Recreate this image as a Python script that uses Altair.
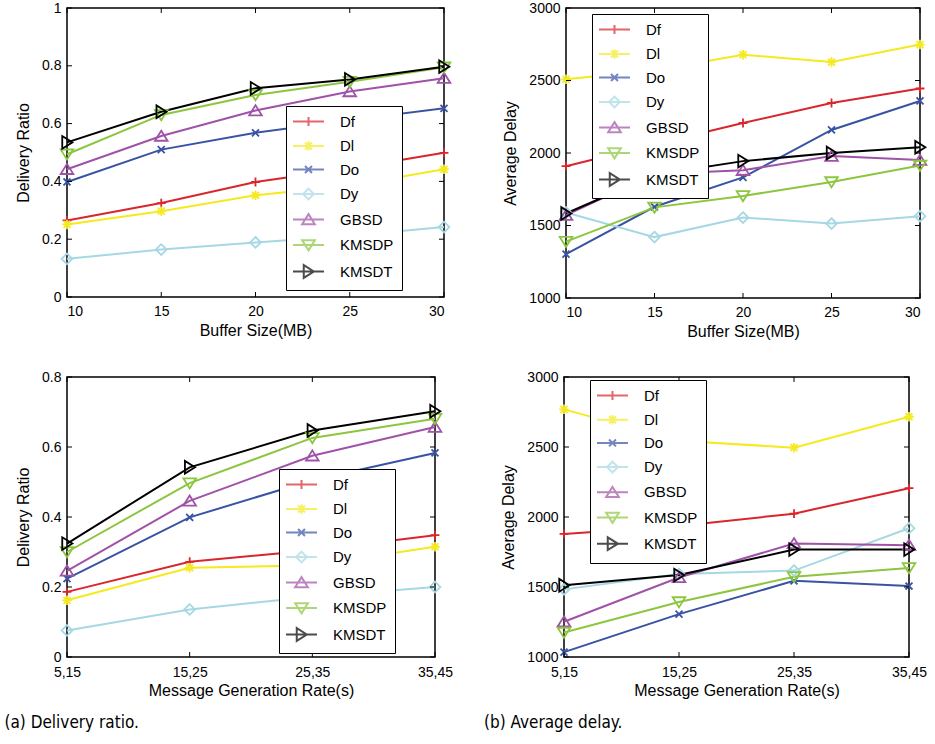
import altair as alt
import pandas as pd

# ---------------- data ----------------
series = ["Df", "Dl", "Do", "Dy", "GBSD", "KMSDP", "KMSDT"]
colors = ["#d9262c", "#f4ea1f", "#3953a4", "#a6d8e4", "#a052a8", "#8cc63f", "#000000"]

buffer_sizes = [10, 15, 20, 25, 30]
rate_labels = ["5,15", "15,25", "25,35", "35,45"]

ratio_buffer = {
    "Df":    [0.265, 0.325, 0.398, 0.445, 0.499],
    "Dl":    [0.251, 0.297, 0.352, 0.385, 0.442],
    "Do":    [0.398, 0.510, 0.568, 0.612, 0.653],
    "Dy":    [0.132, 0.164, 0.189, 0.212, 0.242],
    "GBSD":  [0.442, 0.557, 0.645, 0.711, 0.757],
    "KMSDP": [0.494, 0.630, 0.699, 0.745, 0.795],
    "KMSDT": [0.535, 0.641, 0.722, 0.753, 0.797],
}
delay_buffer = {
    "Df":    [1909, 2060, 2207, 2345, 2445],
    "Dl":    [2508, 2570, 2678, 2627, 2748],
    "Do":    [1303, 1629, 1832, 2159, 2359],
    "Dy":    [1590, 1420, 1555, 1513, 1564],
    "GBSD":  [1571, 1855, 1881, 1979, 1951],
    "KMSDP": [1389, 1625, 1704, 1800, 1914],
    "KMSDT": [1583, 1850, 1944, 2000, 2040],
}
ratio_rate = {
    "Df":    [0.186, 0.272, 0.305, 0.348],
    "Dl":    [0.162, 0.255, 0.262, 0.315],
    "Do":    [0.224, 0.399, 0.505, 0.583],
    "Dy":    [0.076, 0.136, 0.172, 0.200],
    "GBSD":  [0.246, 0.446, 0.575, 0.657],
    "KMSDP": [0.300, 0.497, 0.626, 0.681],
    "KMSDT": [0.324, 0.542, 0.647, 0.702],
}
delay_rate = {
    "Df":    [1879, 1935, 2024, 2206],
    "Dl":    [2769, 2545, 2495, 2716],
    "Do":    [1035, 1306, 1544, 1507],
    "Dy":    [1483, 1592, 1617, 1920],
    "GBSD":  [1252, 1568, 1811, 1799],
    "KMSDP": [1175, 1393, 1573, 1636],
    "KMSDT": [1512, 1585, 1767, 1767],
}

ratio_ticks_a = [0, 0.2, 0.4, 0.6, 0.8, 1]
ratio_ticks_b = [0, 0.2, 0.4, 0.6, 0.8]
delay_ticks = [1000, 1500, 2000, 2500, 3000]

# ---------------- styling ----------------
FONT = "Liberation Sans, Arial, Helvetica, sans-serif"
CAPTION_FONT = "Liberation Sans Narrow, DejaVu Sans Condensed, Roboto Condensed, Liberation Sans, sans-serif"

marker_paths = {
    "Df": "M-0.7,0L0.7,0M0,-0.7L0,0.7",
    "Dl": "M-0.75,0L0.75,0M0,-0.75L0,0.75M-0.55,-0.55L0.55,0.55M-0.55,0.55L0.55,-0.55",
    "Do": "M-0.55,-0.55L0.55,0.55M-0.55,0.55L0.55,-0.55",
    "Dy": "M0,-0.85L0.85,0L0,0.85L-0.85,0Z",
    "GBSD": "M0,-0.85L1,0.75L-1,0.75Z",
    "KMSDP": "M0,0.85L1,-0.75L-1,-0.75Z",
    "KMSDT": "M0.85,0L-0.75,-1L-0.75,1Z",
}
LINE_HALF = 2.45
legend_paths = [f"M-{LINE_HALF},0L{LINE_HALF},0" + marker_paths[s] for s in series]
MSIZE = 160
PAD = "\u00a0" * 7


def long_df(values, xs):
    rows = []
    for s in series:
        for xv, yv in zip(xs, values[s]):
            rows.append({"series": s, "x": xv, "y": yv})
    return pd.DataFrame(rows)


def panel(values, xs, xcat, yticks, ydomain, yfmt, xtitle, ytitle, W, H, lx, ly,
          rowpad=6.5, caption=None, cap_dx=0):
    df = long_df(values, xs)
    axis_common = dict(domain=False, ticks=False, grid=False, labelFont=FONT, labelFontSize=14,
                       labelColor="black", titleFont=FONT, titleFontSize=16,
                       titleFontWeight="normal", titleColor="black")
    if xcat:
        xenc = alt.X("x:O", scale=alt.Scale(type="point", padding=0, domain=xs),
                     axis=alt.Axis(labelAngle=0, labelPadding=8, titlePadding=3, **axis_common),
                     title=xtitle)
    else:
        xenc = alt.X("x:Q", scale=alt.Scale(domain=[xs[0], xs[-1]], nice=False, zero=False),
                     axis=alt.Axis(values=xs, format="d", labelPadding=7, titlePadding=4, **axis_common),
                     title=xtitle)
    yenc = alt.Y("y:Q", scale=alt.Scale(domain=ydomain, nice=False, zero=False),
                 axis=alt.Axis(values=yticks, format=yfmt, labelPadding=6, titlePadding=10, **axis_common),
                 title=ytitle)

    base = alt.Chart(df)
    layers = []
    for s, c in zip(series, colors):
        sub = base.transform_filter(alt.datum.series == s)
        layers.append(sub.mark_line(strokeWidth=2, color=c).encode(x=xenc, y=yenc))
    for s, c in zip(series, colors):
        sub = base.transform_filter(alt.datum.series == s)
        layers.append(sub.mark_point(filled=False, strokeWidth=1.8, size=MSIZE, opacity=1,
                                     color=c, shape=marker_paths[s]).encode(x=xenc, y=yenc))

    # inward tick marks
    xt = pd.DataFrame({"x": xs})
    yt = pd.DataFrame({"y": yticks})
    tl = 5
    layers.append(alt.Chart(xt).mark_rule(color="black", strokeWidth=1).encode(
        x=xenc, y=alt.value(H), y2=alt.value(H - tl)))
    layers.append(alt.Chart(xt).mark_rule(color="black", strokeWidth=1).encode(
        x=xenc, y=alt.value(0), y2=alt.value(tl)))
    layers.append(alt.Chart(yt).mark_rule(color="black", strokeWidth=1).encode(
        y=yenc, x=alt.value(0), x2=alt.value(tl)))
    layers.append(alt.Chart(yt).mark_rule(color="black", strokeWidth=1).encode(
        y=yenc, x=alt.value(W), x2=alt.value(W - tl)))

    # legend layer (no marks drawn, only the legend from the scales)
    leg = alt.Legend(title=None, orient="none", legendX=lx, legendY=ly,
                     labelExpr=f"datum.label + '{PAD}'",
                     strokeColor="black", fillColor="white", padding=8, rowPadding=rowpad,
                     labelFont=FONT, labelFontSize=15, labelColor="black",
                     symbolSize=MSIZE, symbolStrokeWidth=2, symbolOffset=7, labelOffset=24)
    layers.append(base.transform_filter("false").mark_point(filled=False, strokeWidth=2, size=MSIZE).encode(
        x=xenc, y=yenc,
        color=alt.Color("series:N", scale=alt.Scale(domain=series, range=colors), legend=leg),
        shape=alt.Shape("series:N", scale=alt.Scale(domain=series, range=legend_paths), legend=leg),
    ))
    ch = alt.layer(*layers).properties(width=W, height=H)
    if caption:
        ch = ch.properties(title=alt.TitleParams(
            text=caption, orient="bottom", anchor="start", frame="group", font=CAPTION_FONT,
            fontSize=17, fontWeight="normal", color="black", offset=17, dx=cap_dx))
    return ch


p1 = panel(ratio_buffer, buffer_sizes, False, ratio_ticks_a, [0, 1], "~g",
           "Buffer Size(MB)", "Delivery Ratio", 377, 289, 219, 98, rowpad=6.5)
p2 = panel(delay_buffer, buffer_sizes, False, delay_ticks, [1000, 3000], "d",
           "Buffer Size(MB)", "Average Delay", 354, 290, 26, 6, rowpad=6.5)
p3 = panel(ratio_rate, rate_labels, True, ratio_ticks_b, [0, 0.8], "~g",
           "Message Generation Rate(s)", "Delivery Ratio", 368, 280, 212, 92, rowpad=6.5,
           caption="(a) Delivery ratio.", cap_dx=-62.5)
p4 = panel(delay_rate, rate_labels, True, delay_ticks, [1000, 3000], "d",
           "Message Generation Rate(s)", "Average Delay", 345, 280, 26, 3, rowpad=6.2,
           caption="(b) Average delay.", cap_dx=-80)

res = dict(color="independent", shape="independent", x="independent", y="independent")
row1 = alt.hconcat(p1, p2, spacing=47).resolve_scale(**res).resolve_legend(
    color="independent", shape="independent")
row2 = alt.hconcat(p3, p4, spacing=29).resolve_scale(**res).resolve_legend(
    color="independent", shape="independent")

chart = alt.vconcat(row1, row2, spacing=29).resolve_scale(**res).resolve_legend(
    color="independent", shape="independent").configure_view(
    stroke="black", strokeWidth=1.5).properties(
    background="white", padding={"left": 3, "top": 0, "right": 0, "bottom": 0})

chart.save("out.html", embed_options={"renderer": "svg", "actions": False})
